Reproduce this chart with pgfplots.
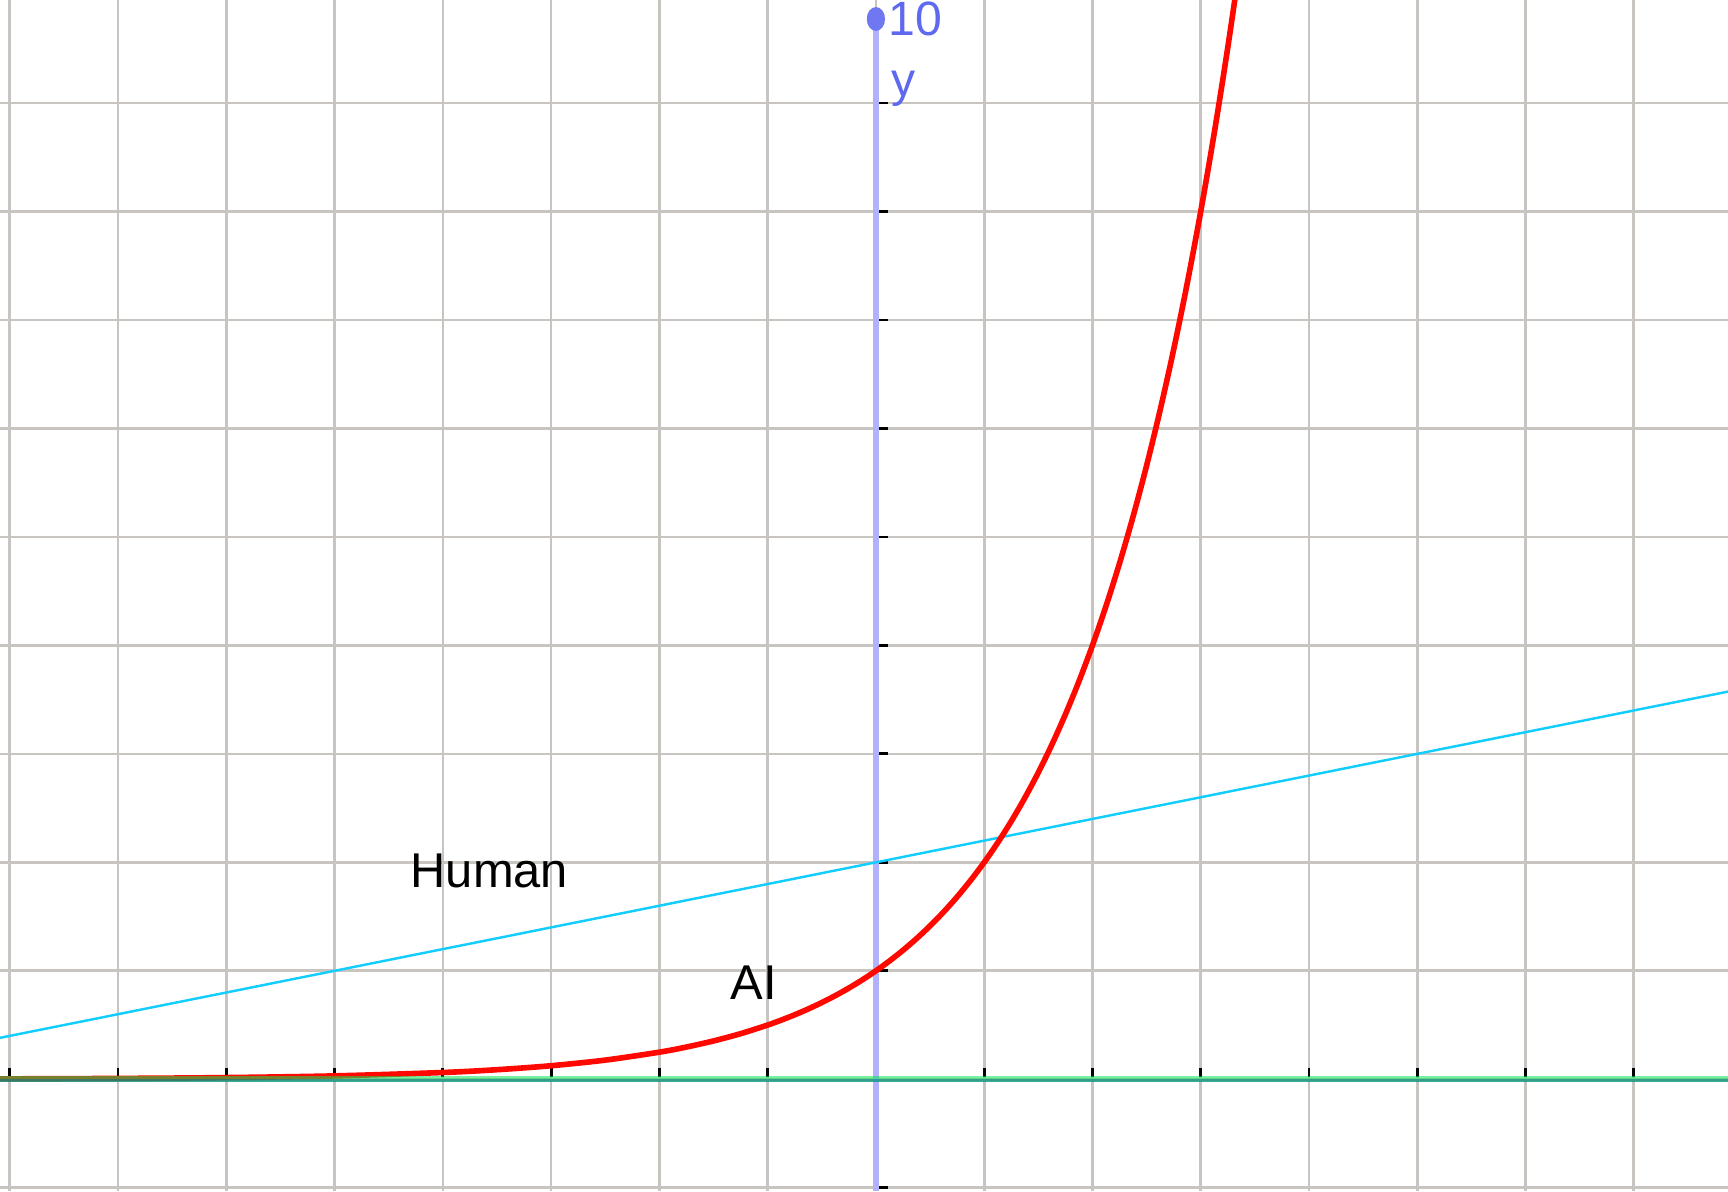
\documentclass[border=0pt]{standalone}
\usepackage{pgfplots}
\pgfplotsset{compat=1.18}
\usepackage{fontspec}
\setmainfont{Liberation Sans}
\definecolor{gridc}{RGB}{200,197,192}
\definecolor{humanc}{RGB}{20,205,255}
\definecolor{aic}{RGB}{255,8,0}
\definecolor{lgreen}{RGB}{10,228,82}
\definecolor{tealc}{RGB}{11,149,124}
\definecolor{yaxisc}{RGB}{178,178,252}
\definecolor{ylabc}{RGB}{95,105,240}
\begin{document}
\begin{tikzpicture}
\begin{axis}[
  scale only axis, width=17.28cm, height=11.91cm,
  xmin=-8.09, xmax=7.87, ymin=-1.03, ymax=9.95,
  xtick={-8,...,7}, ytick={-1,...,9},
  xticklabels={}, yticklabels={},
  major tick length=0pt,
  grid=major,
  major grid style={draw=gridc, line width=0.75pt},
  axis line style={draw=none},
  clip=true,
]
% y axis
\addplot[yaxisc, line width=1.6pt] coordinates {(0,-1.03) (0,9.82)};
\fill[ylabc!90!white] (axis cs:0,9.775) ellipse [x radius=2.6pt, y radius=3.4pt];
% ticks
\pgfplotsinvokeforeach{-8,-7,-6,-5,-4,-3,-2,-1,1,2,3,4,5,6,7}{
  \draw[black, line width=0.8pt] (axis cs:#1,0.025) -- (axis cs:#1,0.105);
}
\pgfplotsinvokeforeach{-1,1,2,3,4,5,6,7,8,9}{
  \draw[black, line width=0.8pt] (axis cs:0.03,#1) -- (axis cs:0.11,#1);
}
% Human
\addplot[humanc, line width=0.7pt] coordinates {(-8.09,0.382) (7.87,3.574)};
% AI (2^x)
\addplot[aic, line width=1.6pt, smooth] coordinates {
(-8.09,0.0037) (-8,0.0039) (-7,0.0078) (-6,0.0156) (-5,0.03125) (-4,0.0625)
(-3.5,0.0884) (-3,0.125) (-2.5,0.1768) (-2,0.25) (-1.75,0.2973) (-1.5,0.3536)
(-1.25,0.4204) (-1,0.5) (-0.875,0.5453) (-0.75,0.5946) (-0.625,0.6484) (-0.5,0.7071)
(-0.375,0.7711) (-0.25,0.8409) (-0.125,0.9170) (0,1)
(0.125,1.0905) (0.25,1.1892) (0.375,1.2968) (0.5,1.4142) (0.625,1.5422) (0.75,1.6818)
(0.875,1.8340) (1,2) (1.125,2.1810) (1.25,2.3784) (1.375,2.5937) (1.5,2.8284)
(1.625,3.0844) (1.75,3.3636) (1.875,3.6680) (2,4) (2.125,4.3620) (2.25,4.7568)
(2.375,5.1874) (2.5,5.6569) (2.625,6.1688) (2.75,6.7272) (2.875,7.3360) (3,8)
(3.125,8.7241) (3.25,9.5137) (3.375,10.3747) (3.5,11.3137)};
% x axis / zero line
\addplot[lgreen, opacity=0.55, line width=0.85pt] coordinates {(-8.09,0.014) (7.87,0.014)};
\addplot[tealc, opacity=0.8, line width=0.75pt] coordinates {(-8.09,-0.012) (7.87,-0.012)};
% labels
\node[font=\fontsize{13.9}{16}\selectfont, anchor=center] at (axis cs:-3.57,1.92) {Human};
\node[font=\fontsize{13.9}{16}\selectfont, anchor=center] at (axis cs:-1.13,0.895) {AI};
\node[font=\fontsize{13.7}{16}\selectfont, text=ylabc, anchor=base west, inner sep=0pt] at (axis cs:0.14,9.06) {y};
\node[font=\fontsize{13.7}{16}\selectfont, text=ylabc, anchor=base west, inner sep=0pt] at (axis cs:0.11,9.62) {10};
\end{axis}
\pgfresetboundingbox
\useasboundingbox (current axis.south west) rectangle (current axis.north east);
\end{tikzpicture}
\end{document}
